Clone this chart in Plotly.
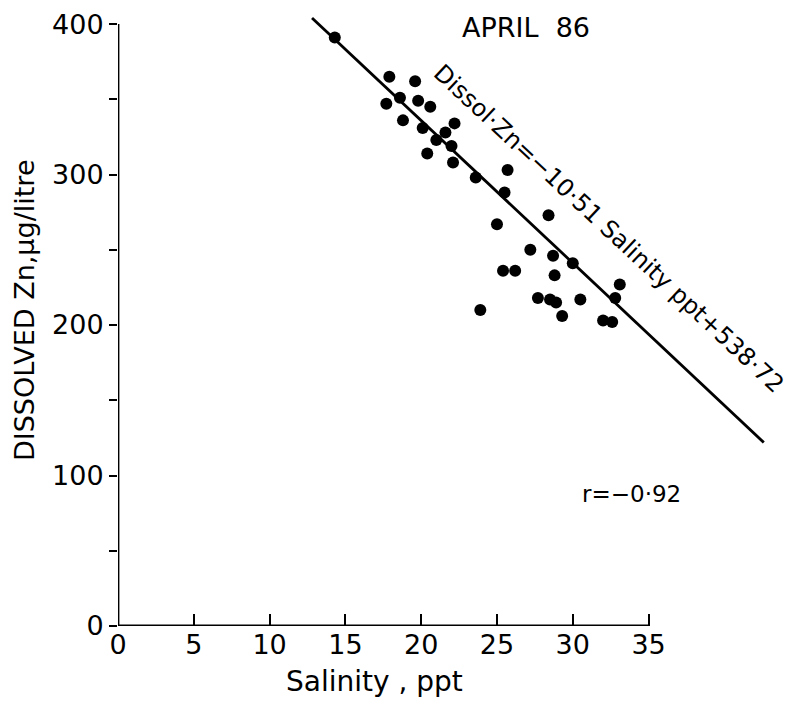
import plotly.graph_objects as go

salinity = [14.3, 17.9, 17.7, 18.6, 18.8, 19.6, 19.8, 20.1, 20.4, 20.6, 21.0, 21.6,
            22.0, 22.2, 22.1, 23.6, 23.9, 25.0, 25.4, 25.5, 25.7, 26.2, 27.2, 27.7,
            28.4, 28.5, 28.7, 28.8, 28.9, 29.3, 30.0, 30.5, 32.0, 32.6, 32.8, 33.1]
zinc = [391, 365, 347, 351, 336, 362, 349, 331, 314, 345, 323, 328,
        319, 334, 308, 298, 210, 267, 236, 288, 303, 236, 250, 218,
        273, 217, 246, 233, 215, 206, 241, 217, 203, 202, 218, 227]

fit_x = [12.8, 42.6]
fit_y = [404, 122]

x_ticks = [0, 5, 10, 15, 20, 25, 30, 35]
y_ticks = [0, 50, 100, 150, 200, 250, 300, 350, 400]
y_ticklabels = ["0", "", "100", "", "200", "", "300", "", "400"]

FONT = "DejaVu Sans"

fig = go.Figure()
fig.add_trace(go.Scatter(x=fit_x, y=fit_y, mode="lines",
                         line=dict(color="black", width=2.8), showlegend=False))
fig.add_trace(go.Scatter(x=salinity, y=zinc, mode="markers",
                         marker=dict(color="black", size=12), showlegend=False))

# axis lines (x axis ends at 35, y axis ends at 400)
fig.add_shape(type="line", xref="x", yref="y", x0=0, y0=0, x1=35, y1=0,
              line=dict(color="black", width=2.8))
fig.add_shape(type="line", xref="x", yref="y", x0=0, y0=0, x1=0, y1=400,
              line=dict(color="black", width=2.8))

fig.add_annotation(x=26.9, y=398, xref="x", yref="y", text="APRIL\u00a0\u00a086",
                   showarrow=False, font=dict(family=FONT, size=27, color="black"),
                   yanchor="middle")
fig.add_annotation(x=33.9, y=88, xref="x", yref="y", text="r=\u22120\u00b792",
                   showarrow=False, font=dict(family=FONT, size=23, color="black"))
fig.add_annotation(x=32.4, y=264, xref="x", yref="y",
                   text="Dissol\u00b7Zn=\u221210\u00b751 Salinity ppt+538\u00b772",
                   textangle=43, showarrow=False,
                   font=dict(family=FONT, size=24, color="black"))
# axis titles
fig.add_annotation(x=0.385, y=-0.0903, xref="paper", yref="paper", text="Salinity , ppt",
                   xanchor="center", yanchor="middle",
                   showarrow=False, font=dict(family=FONT, size=28, color="black"))
fig.add_annotation(x=-0.139, y=0.51, xref="paper", yref="paper",
                   text="DISSOLVED Zn,\u00b5g/litre", xanchor="center", yanchor="middle",
                   textangle=-90, showarrow=False,
                   font=dict(family=FONT, size=27, color="black"))

fig.update_layout(
    width=799, height=702,
    margin=dict(l=118, r=14, t=6, b=76),
    paper_bgcolor="white", plot_bgcolor="white",
    font=dict(family=FONT, color="black"),
    xaxis=dict(range=[0, 44], tickvals=x_ticks, ticktext=[str(v) for v in x_ticks],
               ticks="inside", ticklen=12, tickwidth=2, tickcolor="black",
               showgrid=False, zeroline=False, showline=False, automargin=False,
               tickfont=dict(family=FONT, size=27)),
    yaxis=dict(range=[0, 412], tickvals=y_ticks, ticktext=y_ticklabels,
               ticks="outside", ticklen=8, tickwidth=2, tickcolor="black",
               showgrid=False, zeroline=False, showline=False, automargin=False,
               tickfont=dict(family=FONT, size=27)),
)

fig.write_html("out.html")
